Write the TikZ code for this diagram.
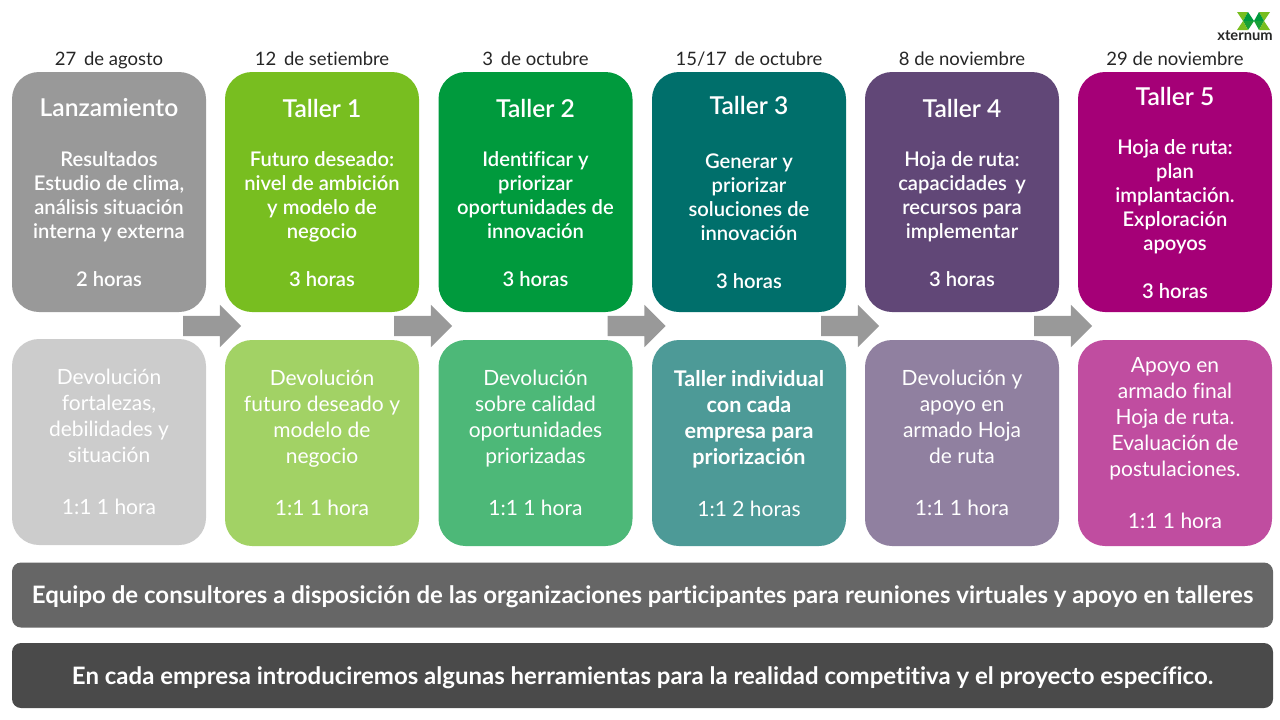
\documentclass[tikz,border=0pt]{standalone}
\usepackage{fontspec}
\setmainfont[Ligatures=NoCommon]{Lato}
\newfontfamily\latom[Ligatures=NoCommon]{Lato Semibold}
\usetikzlibrary{shapes.arrows}
\newcommand\lowbf{\fontsize{21.6}{26}\selectfont\bfseries}
\definecolor{cA}{HTML}{999999}\definecolor{cB}{HTML}{78BE20}\definecolor{cC}{HTML}{009A3D}
\definecolor{cD}{HTML}{006F6B}\definecolor{cE}{HTML}{614777}\definecolor{cF}{HTML}{A50077}
\definecolor{lA}{HTML}{CCCCCC}\definecolor{lB}{HTML}{A2D265}\definecolor{lC}{HTML}{4DB878}
\definecolor{lD}{HTML}{4D9A97}\definecolor{lE}{HTML}{9080A0}\definecolor{lF}{HTML}{C04DA0}
\definecolor{barA}{HTML}{666666}\definecolor{barB}{HTML}{4A4A4A}
\tikzset{x=1pt,y=-1pt,
 tallbox/.style={rounded corners=27pt,minimum width=194pt,minimum height=240pt,inner sep=0pt,draw=none},
 lowbox/.style={rounded corners=27pt,minimum width=194pt,minimum height=206pt,inner sep=0pt,draw=none},
 datelbl/.style={font=\fontsize{18.5}{20}\selectfont,text=black!85,inner sep=0pt,anchor=base},
 titlelbl/.style={font=\latom\fontsize{24.6}{26}\selectfont,text=white,inner sep=0pt},
 bodylbl/.style={font=\latom\fontsize{20.2}{24}\selectfont,text=white,inner sep=0pt,align=center,anchor=north},
 lowlbl/.style={font=\fontsize{21}{26}\selectfont,text=white,inner sep=0pt,align=center,anchor=north},
 barbox/.style={rounded corners=9pt,minimum width=1261pt,minimum height=65pt,inner sep=0pt,text=white,font=\fontsize{24}{28}\selectfont\bfseries},
 flowarrow/.style={single arrow,fill=cA,draw=none,minimum height=58pt,minimum width=42pt,single arrow head extend=11pt,inner sep=0pt,single arrow tip angle=90,text height=20pt,text depth=0pt}}
\begin{document}
\begin{tikzpicture}
\useasboundingbox (0,0) rectangle (1280,720);
\node[datelbl] (d1) at (109,65) {27\, de agosto};
\node[datelbl] (d2) at (322,65) {12\, de setiembre};
\node[datelbl] (d3) at (535.5,65) {3\, de octubre};
\node[datelbl] (d4) at (749,65) {15/17\, de octubre};
\node[datelbl] (d5) at (962,65) {8 de noviembre};
\node[datelbl] (d6) at (1175,65) {29 de noviembre};
\node[tallbox,fill=cA] (t1) at (109,192) {};
\node[tallbox,fill=cB] (t2) at (322,192) {};
\node[tallbox,fill=cC] (t3) at (535.5,192) {};
\node[tallbox,fill=cD] (t4) at (749,192) {};
\node[tallbox,fill=cE] (t5) at (962,192) {};
\node[tallbox,fill=cF] (t6) at (1175,192) {};
\node[titlelbl] (h1) at (109,108) {Lanzamiento};
\node[titlelbl] (h2) at (322,108) {Taller 1};
\node[titlelbl] (h3) at (535.5,108) {Taller 2};
\node[titlelbl] (h4) at (749,105) {Taller 3};
\node[titlelbl] (h5) at (962,108) {Taller 4};
\node[titlelbl] (h6) at (1175,96) {Taller 5};
\node[bodylbl] (b1) at (109,151) {Resultados\\Estudio de clima,\\análisis situación\\interna y externa\\[24pt]2 horas};
\node[bodylbl] (b2) at (322,151) {Futuro deseado:\\nivel de ambición\\y modelo de\\negocio\\[24pt]3 horas};
\node[bodylbl] (b3) at (535.5,151) {Identificar y\\priorizar\\oportunidades de\\innovación\\[24pt]3 horas};
\node[bodylbl] (b4) at (749,154) {Generar y\\priorizar\\soluciones de\\innovación\\[24pt]3 horas};
\node[bodylbl] (b5) at (962,151) {Hoja de ruta:\\capacidades\, y\\recursos para\\implementar\\[24pt]3 horas};
\node[bodylbl] (b6) at (1175,139) {Hoja de ruta:\\plan\\implantación.\\Exploración\\apoyos\\[24pt]3 horas};
\node[lowbox,fill=lA] (l1) at (109,442) {};
\node[lowbox,fill=lB] (l2) at (322,443) {};
\node[lowbox,fill=lC] (l3) at (535.5,443) {};
\node[lowbox,fill=lD] (l4) at (749,443) {};
\node[lowbox,fill=lE] (l5) at (962,443) {};
\node[lowbox,fill=lF] (l6) at (1175,443) {};
\node[lowlbl] (m1) at (109,369) {Devolución\\fortalezas,\\debilidades y\\situación\\[26pt]1:1 1 hora};
\node[lowlbl] (m2) at (322,370) {Devolución\\futuro deseado y\\modelo de\\negocio\\[26pt]1:1 1 hora};
\node[lowlbl] (m3) at (535.5,370) {Devolución\\sobre calidad\\oportunidades\\priorizadas\\[26pt]1:1 1 hora};
\node[lowlbl] (m4) at (749,370) {\lowbf Taller individual\\\lowbf con cada\\\lowbf empresa para\\\lowbf priorización\\[26pt]1:1 2 horas};
\node[lowlbl] (m5) at (962,370) {Devolución y\\apoyo en\\armado Hoja\\de ruta\\[26pt]1:1 1 hora};
\node[lowlbl] (m6) at (1175,357) {Apoyo en\\armado final\\Hoja de ruta.\\Evaluación de\\postulaciones.\\[26pt]1:1 1 hora};
\node[flowarrow] (a1) at (207,326) {};
\node[flowarrow] (a2) at (418,326) {};
\node[flowarrow] (a3) at (631.5,326) {};
\node[flowarrow] (a4) at (845,326) {};
\node[flowarrow] (a5) at (1058,326) {};
\node[barbox,fill=barA] (s1) at (642.5,595) {\raisebox{-8pt}[0pt][0pt]{Equipo de consultores a disposición de las organizaciones participantes para reuniones virtuales y apoyo en talleres}};
\node[barbox,fill=barB] (s2) at (642.5,675.5) {\raisebox{-8.5pt}[0pt][0pt]{En cada empresa introduciremos algunas herramientas para la realidad competitiva y el proyecto específico.}};
% logo
\fill[cB] (1237,12) -- (1248,12) -- (1243,21) -- cycle;
\fill[cC] (1248,12) -- (1254,21) -- (1243,21) -- cycle;
\fill[cC!80!cB] (1243,21) -- (1254,21) -- (1248,30) -- cycle;
\fill[cB] (1237,30) -- (1248,30) -- (1243,21) -- cycle;
\fill[cB] (1270,12) -- (1259,12) -- (1264,21) -- cycle;
\fill[cC] (1259,12) -- (1254,21) -- (1264,21) -- cycle;
\fill[cC!80!cB] (1264,21) -- (1254,21) -- (1259,30) -- cycle;
\fill[cB] (1270,30) -- (1259,30) -- (1264,21) -- cycle;
\node[inner sep=0pt,font=\fontsize{14.7}{14}\selectfont\bfseries,text=black!85,anchor=base] (lg) at (1245,40) {xternum};
\end{tikzpicture}
\end{document}
